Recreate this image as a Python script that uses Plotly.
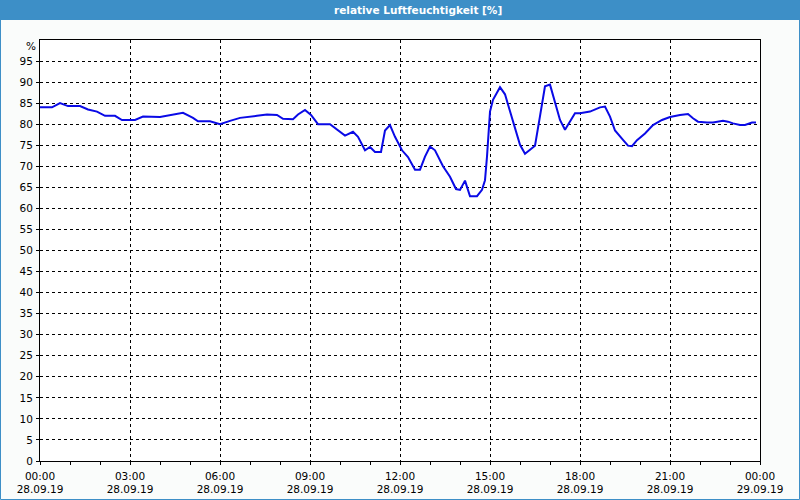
import plotly.graph_objects as go

# ---- data ----
times = ["00:00", "00:24", "00:40", "00:56", "01:20", "01:36", "01:54", "02:10", "02:30", "02:44",
         "03:10", "03:26", "04:00", "04:26", "04:46", "05:06", "05:16", "05:40", "06:00", "06:20",
         "06:40", "07:14", "07:34", "07:54", "08:06", "08:26", "08:36", "08:50", "09:02", "09:16",
         "09:40", "10:10", "10:26", "10:36", "10:50", "11:00", "11:10", "11:22", "11:30", "11:40",
         "11:50", "12:04", "12:16", "12:30", "12:40", "12:50", "13:00", "13:10", "13:26", "13:40",
         "13:52", "14:00", "14:10", "14:20", "14:34", "14:44", "14:50", "14:54", "15:00", "15:06",
         "15:16", "15:20", "15:30", "15:40", "15:50", "16:00", "16:10", "16:20", "16:30", "16:40",
         "16:50", "17:00", "17:10", "17:20", "17:30", "17:40", "17:50", "18:00", "18:20", "18:40",
         "18:50", "19:00", "19:10", "19:26", "19:36", "19:44", "19:54", "20:10", "20:26", "20:44",
         "21:00", "21:20", "21:36", "21:46", "21:56", "22:14", "22:26", "22:46", "22:56", "23:06",
         "23:20", "23:30", "23:44", "23:52"]
humidity = [84.0, 84.0, 85.0, 84.3, 84.3, 83.5, 83.0, 82.0, 82.0, 81.0,
            81.0, 81.8, 81.7, 82.2, 82.7, 81.5, 80.7, 80.7, 80.0, 80.8,
            81.5, 82.0, 82.3, 82.2, 81.3, 81.2, 82.3, 83.4, 82.2, 80.0,
            80.0, 77.3, 78.2, 77.0, 73.8, 74.6, 73.4, 73.4, 78.5, 79.8,
            77.0, 73.8, 72.2, 69.2, 69.2, 72.3, 74.7, 73.8, 70.0, 67.5,
            64.6, 64.4, 66.6, 62.9, 62.9, 64.4, 66.7, 72.3, 83.0, 85.8,
            88.2, 88.8, 87.1, 83.1, 78.7, 75.1, 73.0, 73.9, 74.9, 81.9,
            89.0, 89.4, 85.4, 81.0, 78.7, 80.6, 82.6, 82.6, 83.0, 84.0,
            84.2, 81.8, 78.5, 76.3, 74.9, 74.8, 76.2, 77.8, 79.8, 81.0,
            81.7, 82.2, 82.4, 81.4, 80.6, 80.4, 80.4, 80.8, 80.6, 80.2,
            79.8, 79.8, 80.4, 80.4]
tick_vals = ["2019-09-28 00:00", "2019-09-28 03:00", "2019-09-28 06:00", "2019-09-28 09:00",
             "2019-09-28 12:00", "2019-09-28 15:00", "2019-09-28 18:00", "2019-09-28 21:00",
             "2019-09-29 00:00"]
tick_text = ["00:00<br>28.09.19", "03:00<br>28.09.19", "06:00<br>28.09.19", "09:00<br>28.09.19",
             "12:00<br>28.09.19", "15:00<br>28.09.19", "18:00<br>28.09.19", "21:00<br>28.09.19",
             "00:00<br>29.09.19"]
y_ticks = list(range(0, 100, 5))
title_text = "relative Luftfeuchtigkeit [%]"
unit_text = "%"

x = ["2019-09-28 " + t for t in times]

W, H = 800, 500
L, R, T, B = 40, 40, 40, 39
pw, ph = W - L - R, H - T - B

def px(v):
    return (v - L) / pw

def py(v):
    return (H - B - v) / ph

FONT = "DejaVu Sans"

fig = go.Figure()
fig.add_trace(go.Scatter(x=x, y=humidity, mode="lines",
                         line=dict(color="#0a0ae6", width=2), hoverinfo="skip"))

fig.update_layout(
    width=W, height=H,
    margin=dict(l=L, r=R, t=T, b=B, pad=0, autoexpand=False),
    paper_bgcolor="#fafcfb",
    plot_bgcolor="#ffffff",
    showlegend=False,
    font=dict(family=FONT, size=10, color="#000000"),
    xaxis=dict(
        type="date",
        range=["2019-09-28 00:00", "2019-09-29 00:00"],
        tickmode="array", tickvals=tick_vals, ticktext=tick_text,
        showgrid=True, gridcolor="#000000", gridwidth=1, griddash="3px,3px",
        showline=True, linecolor="#000000", linewidth=1, mirror=True,
        ticks="outside", ticklen=3, tickcolor="#000000",
        ticklabelstandoff=2,
        minor=dict(dtick=3600000, ticks="outside", ticklen=3, tickcolor="#000000", showgrid=False),
        zeroline=False, fixedrange=True, automargin=False,
        tickfont=dict(family=FONT, size=10.5, color="#000000"),
    ),
    yaxis=dict(
        range=[0, 100],
        tickmode="array", tickvals=y_ticks,
        showgrid=True, gridcolor="#000000", gridwidth=1, griddash="3px,3px",
        showline=True, linecolor="#000000", linewidth=1, mirror=True,
        ticks="outside", ticklen=3, tickcolor="#000000",
        ticklabelstandoff=1,
        zeroline=False, fixedrange=True, automargin=False,
        tickfont=dict(family=FONT, size=10.5, color="#000000"),
    ),
    shapes=[
        dict(type="rect", xref="paper", yref="paper",
             x0=px(0), x1=px(W), y0=py(20), y1=py(0),
             fillcolor="#3d8fc7", line=dict(width=0), layer="above"),
        dict(type="rect", xref="paper", yref="paper",
             x0=px(0.5), x1=px(W - 0.5), y0=py(H - 0.5), y1=py(0.5),
             line=dict(color="#3d8fc7", width=1), fillcolor="rgba(0,0,0,0)", layer="above"),
    ],
    annotations=[
        dict(text="<b>" + title_text + "</b>", xref="paper", yref="paper",
             x=px(418), y=py(10), xanchor="center", yanchor="middle", showarrow=False,
             font=dict(family=FONT, size=10.5, color="#ffffff")),
        dict(text=unit_text, xref="paper", yref="paper",
             x=px(38), y=py(46), xanchor="right", yanchor="middle", showarrow=False,
             font=dict(family=FONT, size=10.5, color="#000000")),
    ],
)

fig.write_html("out.html")
